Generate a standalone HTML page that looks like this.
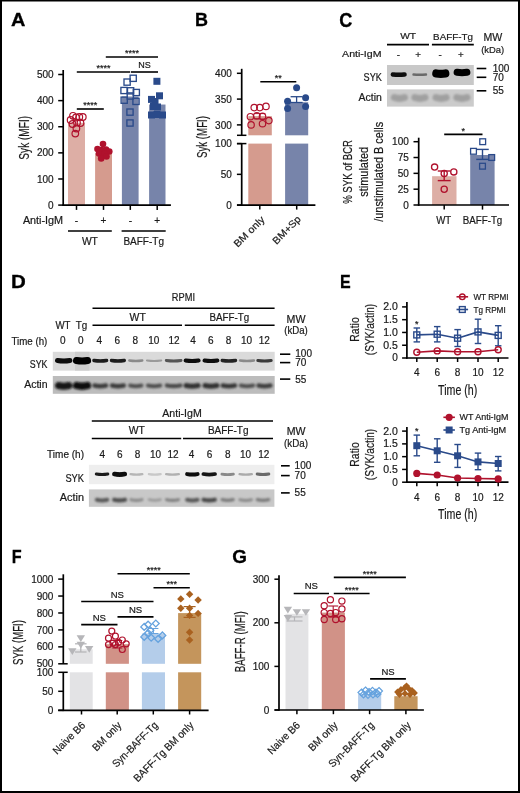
<!DOCTYPE html>
<html><head><meta charset="utf-8"><style>
html,body{margin:0;padding:0;background:#fff;}
body{width:520px;height:793px;overflow:hidden;}
svg{display:block;font-family:"Liberation Sans", sans-serif;will-change:transform;}
text{stroke:#1a1a1a;stroke-width:0.2px;}
</style></head><body>
<svg width="520" height="793" viewBox="0 0 520 793">
<defs>
<filter id="bl" filterUnits="userSpaceOnUse" x="0" y="0" width="520" height="793"><feGaussianBlur stdDeviation="0.9"/></filter>
<filter id="bl2" filterUnits="userSpaceOnUse" x="0" y="0" width="520" height="793"><feGaussianBlur stdDeviation="0.5"/></filter>
</defs>
<rect width="520" height="793" fill="#fff"/>
<rect x="0.00" y="0.00" width="520.00" height="1.50" fill="#000" />
<rect x="0.00" y="0.00" width="2.00" height="793.00" fill="#000" />
<rect x="518.00" y="0.00" width="2.00" height="793.00" fill="#000" />
<rect x="0.00" y="791.00" width="520.00" height="2.00" fill="#000" />
<text transform="translate(10.90,26.4) scale(1.073,1.0)" font-size="18.6" font-weight="bold" fill="#000" style="stroke:#000;stroke-width:0.3px">A</text>
<text transform="translate(194.95,26.4) scale(0.968,1.0)" font-size="18.6" font-weight="bold" fill="#000" style="stroke:#000;stroke-width:0.3px">B</text>
<text transform="translate(339.34,26.6) scale(0.976,1.05)" font-size="18.6" font-weight="bold" fill="#000" style="stroke:#000;stroke-width:0.3px">C</text>
<text transform="translate(10.98,287.6) scale(1.101,1.0)" font-size="18.6" font-weight="bold" fill="#000" style="stroke:#000;stroke-width:0.3px">D</text>
<text transform="translate(340.08,287.7) scale(0.861,1.0)" font-size="18.6" font-weight="bold" fill="#000" style="stroke:#000;stroke-width:0.3px">E</text>
<text transform="translate(11.87,562.5) scale(0.871,1.0)" font-size="18.6" font-weight="bold" fill="#000" style="stroke:#000;stroke-width:0.3px">F</text>
<text transform="translate(232.32,562.6) scale(1.016,1.03)" font-size="18.6" font-weight="bold" fill="#000" style="stroke:#000;stroke-width:0.3px">G</text>
<rect x="68.00" y="122.82" width="17.00" height="82.28" fill="#ddaea5" />
<rect x="95.10" y="153.38" width="16.90" height="51.72" fill="#d59b8e" />
<rect x="121.90" y="96.50" width="16.70" height="108.60" fill="#7784aa" />
<rect x="149.10" y="104.54" width="16.40" height="100.56" fill="#7784aa" />
<circle cx="70.60" cy="120.00" r="3.3" fill="none" stroke="#b0122d" stroke-width="1.2"/>
<circle cx="73.00" cy="115.80" r="3.3" fill="none" stroke="#b0122d" stroke-width="1.2"/>
<circle cx="76.00" cy="117.50" r="3.3" fill="none" stroke="#b0122d" stroke-width="1.2"/>
<circle cx="79.30" cy="117.00" r="3.3" fill="none" stroke="#b0122d" stroke-width="1.2"/>
<circle cx="82.80" cy="117.00" r="3.3" fill="none" stroke="#b0122d" stroke-width="1.2"/>
<circle cx="77.00" cy="122.70" r="3.3" fill="none" stroke="#b0122d" stroke-width="1.2"/>
<circle cx="72.50" cy="124.00" r="3.3" fill="none" stroke="#b0122d" stroke-width="1.2"/>
<circle cx="80.50" cy="123.00" r="3.3" fill="none" stroke="#b0122d" stroke-width="1.2"/>
<circle cx="76.40" cy="128.50" r="3.3" fill="none" stroke="#b0122d" stroke-width="1.2"/>
<circle cx="75.30" cy="133.60" r="3.3" fill="none" stroke="#b0122d" stroke-width="1.2"/>
<circle cx="103.00" cy="144.00" r="3.3" fill="#b0122d"/>
<circle cx="97.50" cy="149.00" r="3.3" fill="#b0122d"/>
<circle cx="101.50" cy="150.00" r="3.3" fill="#b0122d"/>
<circle cx="106.00" cy="149.50" r="3.3" fill="#b0122d"/>
<circle cx="109.30" cy="151.50" r="3.3" fill="#b0122d"/>
<circle cx="99.00" cy="153.50" r="3.3" fill="#b0122d"/>
<circle cx="104.50" cy="154.00" r="3.3" fill="#b0122d"/>
<circle cx="101.20" cy="158.40" r="3.3" fill="#b0122d"/>
<circle cx="106.50" cy="156.50" r="3.3" fill="#b0122d"/>
<rect x="130.10" y="75.20" width="6.2" height="6.2" fill="none" stroke="#2a4a8a" stroke-width="1.35"/>
<rect x="124.00" y="79.00" width="6.2" height="6.2" fill="none" stroke="#2a4a8a" stroke-width="1.35"/>
<rect x="120.90" y="87.40" width="6.2" height="6.2" fill="none" stroke="#2a4a8a" stroke-width="1.35"/>
<rect x="127.50" y="87.70" width="6.2" height="6.2" fill="none" stroke="#2a4a8a" stroke-width="1.35"/>
<rect x="133.20" y="89.40" width="6.2" height="6.2" fill="none" stroke="#2a4a8a" stroke-width="1.35"/>
<rect x="127.20" y="92.90" width="6.2" height="6.2" fill="none" stroke="#2a4a8a" stroke-width="1.35"/>
<rect x="121.10" y="97.10" width="6.2" height="6.2" fill="none" stroke="#2a4a8a" stroke-width="1.35"/>
<rect x="132.90" y="98.30" width="6.2" height="6.2" fill="none" stroke="#2a4a8a" stroke-width="1.35"/>
<rect x="126.90" y="109.00" width="6.2" height="6.2" fill="none" stroke="#2a4a8a" stroke-width="1.35"/>
<rect x="126.90" y="119.90" width="6.2" height="6.2" fill="none" stroke="#2a4a8a" stroke-width="1.35"/>
<rect x="153.40" y="77.80" width="7.0" height="7.0" fill="#2a4a8a"/>
<rect x="156.00" y="92.30" width="7.0" height="7.0" fill="#2a4a8a"/>
<rect x="148.00" y="95.90" width="7.0" height="7.0" fill="#2a4a8a"/>
<rect x="151.50" y="98.00" width="7.0" height="7.0" fill="#2a4a8a"/>
<rect x="150.00" y="103.00" width="7.0" height="7.0" fill="#2a4a8a"/>
<rect x="154.00" y="103.50" width="7.0" height="7.0" fill="#2a4a8a"/>
<rect x="148.00" y="111.50" width="7.0" height="7.0" fill="#2a4a8a"/>
<rect x="159.00" y="111.50" width="7.0" height="7.0" fill="#2a4a8a"/>
<rect x="153.50" y="111.00" width="7.0" height="7.0" fill="#2a4a8a"/>
<line x1="63.20" y1="70.00" x2="63.20" y2="205.90" stroke="#000" stroke-width="1.7"/>
<line x1="58.20" y1="205.10" x2="63.20" y2="205.10" stroke="#000" stroke-width="1.5"/>
<text x="53.60" y="208.70" font-size="10" text-anchor="end" fill="#1a1a1a" >0</text>
<line x1="58.20" y1="178.98" x2="63.20" y2="178.98" stroke="#000" stroke-width="1.5"/>
<text x="53.60" y="182.58" font-size="10" text-anchor="end" fill="#1a1a1a" >100</text>
<line x1="58.20" y1="152.86" x2="63.20" y2="152.86" stroke="#000" stroke-width="1.5"/>
<text x="53.60" y="156.46" font-size="10" text-anchor="end" fill="#1a1a1a" >200</text>
<line x1="58.20" y1="126.74" x2="63.20" y2="126.74" stroke="#000" stroke-width="1.5"/>
<text x="53.60" y="130.34" font-size="10" text-anchor="end" fill="#1a1a1a" >300</text>
<line x1="58.20" y1="100.62" x2="63.20" y2="100.62" stroke="#000" stroke-width="1.5"/>
<text x="53.60" y="104.22" font-size="10" text-anchor="end" fill="#1a1a1a" >400</text>
<line x1="58.20" y1="74.50" x2="63.20" y2="74.50" stroke="#000" stroke-width="1.5"/>
<text x="53.60" y="78.10" font-size="10" text-anchor="end" fill="#1a1a1a" >500</text>
<line x1="62.40" y1="205.10" x2="170.90" y2="205.10" stroke="#000" stroke-width="1.7"/>
<line x1="76.50" y1="205.10" x2="76.50" y2="209.90" stroke="#000" stroke-width="1.5"/>
<line x1="103.50" y1="205.10" x2="103.50" y2="209.90" stroke="#000" stroke-width="1.5"/>
<line x1="130.30" y1="205.10" x2="130.30" y2="209.90" stroke="#000" stroke-width="1.5"/>
<line x1="157.20" y1="205.10" x2="157.20" y2="209.90" stroke="#000" stroke-width="1.5"/>
<text transform="translate(28.70,137.80) rotate(-90)" font-size="14.2" text-anchor="middle" fill="#1a1a1a" textLength="43.70" lengthAdjust="spacingAndGlyphs" stroke="#1a1a1a" stroke-width="0.2">Syk (MFI)</text>
<text x="22.90" y="224.00" font-size="10" text-anchor="start" fill="#1a1a1a" textLength="40.20" lengthAdjust="spacingAndGlyphs" >Anti-IgM</text>
<text x="76.50" y="224.00" font-size="10" text-anchor="middle" fill="#1a1a1a" >-</text>
<text x="103.50" y="224.00" font-size="10" text-anchor="middle" fill="#1a1a1a" >+</text>
<text x="130.30" y="224.00" font-size="10" text-anchor="middle" fill="#1a1a1a" >-</text>
<text x="157.20" y="224.00" font-size="10" text-anchor="middle" fill="#1a1a1a" >+</text>
<line x1="68.00" y1="231.00" x2="111.80" y2="231.00" stroke="#000" stroke-width="1.6"/>
<line x1="121.60" y1="231.00" x2="165.70" y2="231.00" stroke="#000" stroke-width="1.6"/>
<text x="89.90" y="244.50" font-size="10" text-anchor="middle" fill="#1a1a1a" textLength="16.00" lengthAdjust="spacingAndGlyphs" >WT</text>
<text x="143.70" y="244.50" font-size="10" text-anchor="middle" fill="#1a1a1a" textLength="40.60" lengthAdjust="spacingAndGlyphs" >BAFF-Tg</text>
<line x1="105.80" y1="57.00" x2="158.00" y2="57.00" stroke="#000" stroke-width="1.6"/>
<text x="131.90" y="56.20" font-size="9" text-anchor="middle" fill="#1a1a1a" stroke="#1a1a1a" stroke-width="0.45">****</text>
<line x1="76.80" y1="72.00" x2="130.20" y2="72.00" stroke="#000" stroke-width="1.6"/>
<text x="103.50" y="71.20" font-size="9" text-anchor="middle" fill="#1a1a1a" stroke="#1a1a1a" stroke-width="0.45">****</text>
<line x1="131.00" y1="72.00" x2="158.00" y2="72.00" stroke="#000" stroke-width="1.6"/>
<text x="144.50" y="67.50" font-size="9" text-anchor="middle" fill="#1a1a1a" >NS</text>
<line x1="76.80" y1="109.00" x2="103.80" y2="109.00" stroke="#000" stroke-width="1.6"/>
<text x="90.30" y="108.20" font-size="9" text-anchor="middle" fill="#1a1a1a" stroke="#1a1a1a" stroke-width="0.45">****</text>
<rect x="248.30" y="116.13" width="23.50" height="19.17" fill="#d59b8e" />
<rect x="248.30" y="143.60" width="23.50" height="61.50" fill="#d59b8e" />
<rect x="285.10" y="102.20" width="23.10" height="33.10" fill="#7784aa" />
<rect x="285.10" y="143.60" width="23.10" height="61.50" fill="#7784aa" />
<line x1="296.60" y1="96.70" x2="296.60" y2="102.50" stroke="#2a4a8a" stroke-width="1.3"/>
<line x1="290.60" y1="96.70" x2="302.60" y2="96.70" stroke="#2a4a8a" stroke-width="1.3"/>
<line x1="290.60" y1="102.50" x2="302.60" y2="102.50" stroke="#2a4a8a" stroke-width="1.3"/>
<line x1="259.80" y1="113.60" x2="259.80" y2="119.00" stroke="#b0122d" stroke-width="1.0"/>
<line x1="254.30" y1="113.60" x2="265.30" y2="113.60" stroke="#b0122d" stroke-width="1.0"/>
<line x1="254.30" y1="119.00" x2="265.30" y2="119.00" stroke="#b0122d" stroke-width="1.0"/>
<circle cx="254.20" cy="107.60" r="3.2" fill="none" stroke="#b0122d" stroke-width="1.2"/>
<circle cx="259.80" cy="107.60" r="3.2" fill="none" stroke="#b0122d" stroke-width="1.2"/>
<circle cx="266.00" cy="106.40" r="3.2" fill="none" stroke="#b0122d" stroke-width="1.2"/>
<circle cx="250.40" cy="116.70" r="3.2" fill="none" stroke="#b0122d" stroke-width="1.2"/>
<circle cx="256.80" cy="115.70" r="3.2" fill="none" stroke="#b0122d" stroke-width="1.2"/>
<circle cx="262.50" cy="116.40" r="3.2" fill="none" stroke="#b0122d" stroke-width="1.2"/>
<circle cx="268.90" cy="120.60" r="3.2" fill="none" stroke="#b0122d" stroke-width="1.2"/>
<circle cx="251.10" cy="124.90" r="3.2" fill="none" stroke="#b0122d" stroke-width="1.2"/>
<circle cx="262.50" cy="123.70" r="3.2" fill="none" stroke="#b0122d" stroke-width="1.2"/>
<circle cx="296.60" cy="87.70" r="3.5" fill="#2a4a8a"/>
<circle cx="287.60" cy="101.20" r="3.5" fill="#2a4a8a"/>
<circle cx="305.60" cy="97.70" r="3.5" fill="#2a4a8a"/>
<circle cx="287.60" cy="108.40" r="3.5" fill="#2a4a8a"/>
<circle cx="305.60" cy="106.40" r="3.5" fill="#2a4a8a"/>
<line x1="241.70" y1="68.80" x2="241.70" y2="135.30" stroke="#000" stroke-width="1.7"/>
<line x1="241.70" y1="143.60" x2="241.70" y2="205.90" stroke="#000" stroke-width="1.7"/>
<line x1="236.90" y1="124.90" x2="241.70" y2="124.90" stroke="#000" stroke-width="1.5"/>
<text x="231.80" y="128.50" font-size="10" text-anchor="end" fill="#1a1a1a" >300</text>
<line x1="236.90" y1="99.10" x2="241.70" y2="99.10" stroke="#000" stroke-width="1.5"/>
<text x="231.80" y="102.70" font-size="10" text-anchor="end" fill="#1a1a1a" >350</text>
<line x1="236.90" y1="73.30" x2="241.70" y2="73.30" stroke="#000" stroke-width="1.5"/>
<text x="231.80" y="76.90" font-size="10" text-anchor="end" fill="#1a1a1a" >400</text>
<line x1="237.00" y1="135.30" x2="246.40" y2="135.30" stroke="#000" stroke-width="1.5"/>
<line x1="237.00" y1="143.60" x2="246.40" y2="143.60" stroke="#000" stroke-width="1.5"/>
<line x1="236.90" y1="205.10" x2="241.70" y2="205.10" stroke="#000" stroke-width="1.5"/>
<text x="231.80" y="208.70" font-size="10" text-anchor="end" fill="#1a1a1a" >0</text>
<line x1="236.90" y1="174.35" x2="241.70" y2="174.35" stroke="#000" stroke-width="1.5"/>
<text x="231.80" y="177.95" font-size="10" text-anchor="end" fill="#1a1a1a" >50</text>
<line x1="236.90" y1="143.60" x2="241.70" y2="143.60" stroke="#000" stroke-width="1.5"/>
<text x="231.80" y="147.20" font-size="10" text-anchor="end" fill="#1a1a1a" >100</text>
<line x1="237.00" y1="205.10" x2="315.40" y2="205.10" stroke="#000" stroke-width="1.7"/>
<line x1="260.30" y1="81.80" x2="296.30" y2="81.80" stroke="#000" stroke-width="1.6"/>
<text x="278.30" y="81.30" font-size="9" text-anchor="middle" fill="#1a1a1a" stroke="#1a1a1a" stroke-width="0.45">**</text>
<text transform="translate(207.00,137.00) rotate(-90)" font-size="14.0" text-anchor="middle" fill="#1a1a1a" textLength="42.00" lengthAdjust="spacingAndGlyphs" stroke="#1a1a1a" stroke-width="0.2">Syk (MFI)</text>
<text transform="translate(265.20,220.20) rotate(-45)" font-size="10" text-anchor="end" fill="#1a1a1a" textLength="39.00" lengthAdjust="spacingAndGlyphs" >BM only</text>
<line x1="259.80" y1="205.10" x2="259.80" y2="209.60" stroke="#000" stroke-width="1.5"/>
<line x1="296.70" y1="205.10" x2="296.70" y2="209.60" stroke="#000" stroke-width="1.5"/>
<text transform="translate(301.60,219.80) rotate(-45)" font-size="10" text-anchor="end" fill="#1a1a1a" textLength="35.50" lengthAdjust="spacingAndGlyphs" >BM+Sp</text>
<text x="400.20" y="39.00" font-size="9.8" text-anchor="start" fill="#1a1a1a" textLength="15.90" lengthAdjust="spacingAndGlyphs" >WT</text>
<line x1="387.00" y1="44.60" x2="429.00" y2="44.60" stroke="#000" stroke-width="1.6"/>
<text x="433.10" y="39.80" font-size="9.8" text-anchor="start" fill="#1a1a1a" textLength="39.80" lengthAdjust="spacingAndGlyphs" >BAFF-Tg</text>
<line x1="431.90" y1="44.60" x2="473.80" y2="44.60" stroke="#000" stroke-width="1.6"/>
<text x="483.50" y="41.20" font-size="10.5" text-anchor="start" fill="#1a1a1a" textLength="18.80" lengthAdjust="spacingAndGlyphs" >MW</text>
<text x="481.20" y="53.40" font-size="9.8" text-anchor="start" fill="#1a1a1a" textLength="23.00" lengthAdjust="spacingAndGlyphs" >(kDa)</text>
<text x="342.10" y="57.40" font-size="9.8" text-anchor="start" fill="#1a1a1a" textLength="39.40" lengthAdjust="spacingAndGlyphs" >Anti-IgM</text>
<text x="398.50" y="57.60" font-size="9.8" text-anchor="middle" fill="#1a1a1a" >-</text>
<text x="418.20" y="57.60" font-size="9.8" text-anchor="middle" fill="#1a1a1a" >+</text>
<text x="440.20" y="57.60" font-size="9.8" text-anchor="middle" fill="#1a1a1a" >-</text>
<text x="460.80" y="57.60" font-size="9.8" text-anchor="middle" fill="#1a1a1a" >+</text>
<text x="381.80" y="80.80" font-size="10" text-anchor="end" fill="#1a1a1a" textLength="18.20" lengthAdjust="spacingAndGlyphs" >SYK</text>
<text x="381.80" y="101.00" font-size="10" text-anchor="end" fill="#1a1a1a" textLength="23.30" lengthAdjust="spacingAndGlyphs" >Actin</text>
<rect x="387.00" y="65.00" width="86.80" height="20.00" fill="#c8c8c8" />
<rect x="387.00" y="89.40" width="86.80" height="17.20" fill="#cbcbcb" />
<g filter="url(#bl2)">
<path d="M392.90,74.50 Q398.70,75.10 404.50,74.50" stroke="#0a0a0a" stroke-width="4.6" stroke-linecap="round" fill="none"/>
<path d="M413.50,74.50 Q419.75,75.10 426.00,74.50" stroke="#6a6a6a" stroke-width="2.4" stroke-linecap="round" fill="none"/>
<path d="M436.30,73.50 Q440.80,74.30 445.30,73.50" stroke="#030303" stroke-width="8.2" stroke-linecap="round" fill="none"/>
<path d="M457.10,72.30 Q462.00,73.10 466.90,72.30" stroke="#050505" stroke-width="7.0" stroke-linecap="round" fill="none"/>
</g>
<g filter="url(#bl)">
<path d="M394.30,97.50 Q399.40,99.30 404.50,97.50" stroke="#a0a0a0" stroke-width="7.0" stroke-linecap="round" fill="none"/>
<path d="M414.80,97.50 Q419.90,99.30 425.00,97.50" stroke="#a0a0a0" stroke-width="7.0" stroke-linecap="round" fill="none"/>
<path d="M436.00,97.50 Q441.10,99.30 446.20,97.50" stroke="#a0a0a0" stroke-width="7.0" stroke-linecap="round" fill="none"/>
<path d="M456.80,97.50 Q461.90,99.30 467.00,97.50" stroke="#a0a0a0" stroke-width="7.0" stroke-linecap="round" fill="none"/>
</g>
<line x1="476.70" y1="68.50" x2="486.30" y2="68.50" stroke="#000" stroke-width="1.6"/>
<text x="492.70" y="72.00" font-size="10" text-anchor="start" fill="#1a1a1a" >100</text>
<line x1="476.70" y1="77.30" x2="486.30" y2="77.30" stroke="#000" stroke-width="1.6"/>
<text x="492.70" y="80.90" font-size="10" text-anchor="start" fill="#1a1a1a" >70</text>
<line x1="476.70" y1="90.80" x2="486.30" y2="90.80" stroke="#000" stroke-width="1.6"/>
<text x="492.70" y="94.40" font-size="10" text-anchor="start" fill="#1a1a1a" >55</text>
<rect x="432.10" y="176.20" width="24.40" height="28.80" fill="#ddaea5" />
<rect x="470.20" y="155.00" width="24.40" height="50.00" fill="#7784aa" />
<line x1="444.20" y1="171.00" x2="444.20" y2="180.60" stroke="#b0122d" stroke-width="1.4"/>
<line x1="437.75" y1="171.00" x2="450.65" y2="171.00" stroke="#b0122d" stroke-width="1.4"/>
<line x1="437.75" y1="180.60" x2="450.65" y2="180.60" stroke="#b0122d" stroke-width="1.4"/>
<line x1="482.50" y1="149.40" x2="482.50" y2="159.40" stroke="#2a4a8a" stroke-width="1.4"/>
<line x1="476.25" y1="149.40" x2="488.75" y2="149.40" stroke="#2a4a8a" stroke-width="1.4"/>
<line x1="476.25" y1="159.40" x2="488.75" y2="159.40" stroke="#2a4a8a" stroke-width="1.4"/>
<circle cx="434.60" cy="167.10" r="3.1" fill="none" stroke="#b0122d" stroke-width="1.3"/>
<circle cx="444.20" cy="173.50" r="3.1" fill="none" stroke="#b0122d" stroke-width="1.3"/>
<circle cx="453.80" cy="171.90" r="3.1" fill="none" stroke="#b0122d" stroke-width="1.3"/>
<circle cx="444.20" cy="189.20" r="3.1" fill="none" stroke="#b0122d" stroke-width="1.3"/>
<rect x="479.80" y="138.80" width="5.8" height="5.8" fill="none" stroke="#2a4a8a" stroke-width="1.3"/>
<rect x="470.60" y="148.40" width="5.8" height="5.8" fill="none" stroke="#2a4a8a" stroke-width="1.3"/>
<rect x="488.80" y="154.60" width="5.8" height="5.8" fill="none" stroke="#2a4a8a" stroke-width="1.3"/>
<rect x="479.60" y="163.30" width="5.8" height="5.8" fill="none" stroke="#2a4a8a" stroke-width="1.3"/>
<line x1="418.70" y1="137.70" x2="418.70" y2="205.80" stroke="#000" stroke-width="1.7"/>
<line x1="413.50" y1="205.00" x2="418.70" y2="205.00" stroke="#000" stroke-width="1.5"/>
<text x="408.80" y="208.50" font-size="10" text-anchor="end" fill="#1a1a1a" >0</text>
<line x1="413.50" y1="189.18" x2="418.70" y2="189.18" stroke="#000" stroke-width="1.5"/>
<text x="408.80" y="192.68" font-size="10" text-anchor="end" fill="#1a1a1a" >25</text>
<line x1="413.50" y1="173.35" x2="418.70" y2="173.35" stroke="#000" stroke-width="1.5"/>
<text x="408.80" y="176.85" font-size="10" text-anchor="end" fill="#1a1a1a" >50</text>
<line x1="413.50" y1="157.52" x2="418.70" y2="157.52" stroke="#000" stroke-width="1.5"/>
<text x="408.80" y="161.02" font-size="10" text-anchor="end" fill="#1a1a1a" >75</text>
<line x1="413.50" y1="141.70" x2="418.70" y2="141.70" stroke="#000" stroke-width="1.5"/>
<text x="408.80" y="145.20" font-size="10" text-anchor="end" fill="#1a1a1a" >100</text>
<line x1="417.90" y1="205.00" x2="509.00" y2="205.00" stroke="#000" stroke-width="1.7"/>
<line x1="444.20" y1="205.00" x2="444.20" y2="209.60" stroke="#000" stroke-width="1.5"/>
<line x1="482.50" y1="205.00" x2="482.50" y2="209.60" stroke="#000" stroke-width="1.5"/>
<line x1="444.20" y1="134.40" x2="482.50" y2="134.40" stroke="#000" stroke-width="1.6"/>
<text x="463.35" y="133.90" font-size="9" text-anchor="middle" fill="#1a1a1a" stroke="#1a1a1a" stroke-width="0.45">*</text>
<text x="443.70" y="223.50" font-size="10" text-anchor="middle" fill="#1a1a1a" textLength="15.00" lengthAdjust="spacingAndGlyphs" >WT</text>
<text x="482.50" y="223.50" font-size="10" text-anchor="middle" fill="#1a1a1a" textLength="39.60" lengthAdjust="spacingAndGlyphs" >BAFF-Tg</text>
<text transform="translate(351.90,171.90) rotate(-90)" font-size="13.7" text-anchor="middle" fill="#1a1a1a" textLength="63.80" lengthAdjust="spacingAndGlyphs" stroke="#1a1a1a" stroke-width="0.2">% SYK of BCR</text>
<text transform="translate(367.80,171.80) rotate(-90)" font-size="13.7" text-anchor="middle" fill="#1a1a1a" textLength="49.90" lengthAdjust="spacingAndGlyphs" stroke="#1a1a1a" stroke-width="0.2">stimulated</text>
<text transform="translate(382.60,171.80) rotate(-90)" font-size="13.7" text-anchor="middle" fill="#1a1a1a" textLength="99.90" lengthAdjust="spacingAndGlyphs" stroke="#1a1a1a" stroke-width="0.2">/unstimulated B cells</text>
<text x="183.40" y="301.10" font-size="10" text-anchor="middle" fill="#1a1a1a" textLength="23.10" lengthAdjust="spacingAndGlyphs" >RPMI</text>
<line x1="92.50" y1="308.30" x2="274.60" y2="308.30" stroke="#000" stroke-width="1.6"/>
<text x="55.40" y="328.80" font-size="10" text-anchor="start" fill="#1a1a1a" textLength="15.00" lengthAdjust="spacingAndGlyphs" >WT</text>
<text x="75.70" y="328.80" font-size="10" text-anchor="start" fill="#1a1a1a" textLength="11.50" lengthAdjust="spacingAndGlyphs" >Tg</text>
<line x1="92.50" y1="325.30" x2="182.00" y2="325.30" stroke="#000" stroke-width="1.6"/>
<line x1="184.80" y1="325.30" x2="274.60" y2="325.30" stroke="#000" stroke-width="1.6"/>
<text x="137.70" y="320.70" font-size="10" text-anchor="middle" fill="#1a1a1a" textLength="16.20" lengthAdjust="spacingAndGlyphs" >WT</text>
<text x="229.40" y="321.00" font-size="10" text-anchor="middle" fill="#1a1a1a" textLength="39.70" lengthAdjust="spacingAndGlyphs" >BAFF-Tg</text>
<text x="286.60" y="322.60" font-size="10" text-anchor="start" fill="#1a1a1a" textLength="18.90" lengthAdjust="spacingAndGlyphs" >MW</text>
<text x="284.20" y="333.90" font-size="10" text-anchor="start" fill="#1a1a1a" textLength="23.60" lengthAdjust="spacingAndGlyphs" >(kDa)</text>
<text x="11.50" y="344.90" font-size="10" text-anchor="start" fill="#1a1a1a" textLength="35.80" lengthAdjust="spacingAndGlyphs" >Time (h)</text>
<text x="62.80" y="344.30" font-size="10" text-anchor="middle" fill="#1a1a1a" >0</text>
<text x="80.80" y="344.30" font-size="10" text-anchor="middle" fill="#1a1a1a" >0</text>
<text x="99.20" y="344.30" font-size="10" text-anchor="middle" fill="#1a1a1a" >4</text>
<text x="117.40" y="344.30" font-size="10" text-anchor="middle" fill="#1a1a1a" >6</text>
<text x="135.40" y="344.30" font-size="10" text-anchor="middle" fill="#1a1a1a" >8</text>
<text x="153.80" y="344.30" font-size="10" text-anchor="middle" fill="#1a1a1a" >10</text>
<text x="174.10" y="344.30" font-size="10" text-anchor="middle" fill="#1a1a1a" >12</text>
<text x="193.10" y="344.30" font-size="10" text-anchor="middle" fill="#1a1a1a" >4</text>
<text x="210.70" y="344.30" font-size="10" text-anchor="middle" fill="#1a1a1a" >6</text>
<text x="228.50" y="344.30" font-size="10" text-anchor="middle" fill="#1a1a1a" >8</text>
<text x="246.50" y="344.30" font-size="10" text-anchor="middle" fill="#1a1a1a" >10</text>
<text x="264.20" y="344.30" font-size="10" text-anchor="middle" fill="#1a1a1a" >12</text>
<text x="47.50" y="368.40" font-size="10" text-anchor="end" fill="#1a1a1a" textLength="17.70" lengthAdjust="spacingAndGlyphs" >SYK</text>
<text x="47.50" y="387.90" font-size="10" text-anchor="end" fill="#1a1a1a" textLength="23.30" lengthAdjust="spacingAndGlyphs" >Actin</text>
<rect x="52.80" y="351.80" width="221.90" height="18.80" fill="#dadada" />
<rect x="75.00" y="351.80" width="14.50" height="18.80" fill="#cdcdcd" />
<rect x="52.80" y="376.00" width="221.90" height="17.80" fill="#bcbcbc" />
<g filter="url(#bl2)">
<path d="M57.50,360.50 Q63.70,361.50 69.90,360.50" stroke="#0d0d0d" stroke-width="5.0" stroke-linecap="round" fill="none"/>
<path d="M76.50,360.50 Q82.05,361.50 87.60,360.50" stroke="#000" stroke-width="7.0" stroke-linecap="round" fill="none"/>
<path d="M93.90,360.50 Q100.25,361.50 106.60,360.50" stroke="#1a1a1a" stroke-width="3.4" stroke-linecap="round" fill="none"/>
<path d="M111.50,360.50 Q117.90,361.50 124.30,360.50" stroke="#1a1a1a" stroke-width="3.4" stroke-linecap="round" fill="none"/>
<path d="M129.30,360.50 Q135.80,361.50 142.30,360.50" stroke="#8a8a8a" stroke-width="2.4" stroke-linecap="round" fill="none"/>
<path d="M147.00,360.50 Q154.10,361.50 161.20,360.50" stroke="#9a9a9a" stroke-width="2.2" stroke-linecap="round" fill="none"/>
<path d="M166.20,360.50 Q173.65,361.50 181.10,360.50" stroke="#555" stroke-width="2.8" stroke-linecap="round" fill="none"/>
<path d="M185.60,360.50 Q192.10,361.50 198.60,360.50" stroke="#0a0a0a" stroke-width="4.0" stroke-linecap="round" fill="none"/>
<path d="M204.50,360.50 Q210.95,361.50 217.40,360.50" stroke="#0a0a0a" stroke-width="4.0" stroke-linecap="round" fill="none"/>
<path d="M222.20,360.50 Q228.85,361.50 235.50,360.50" stroke="#222" stroke-width="3.4" stroke-linecap="round" fill="none"/>
<path d="M240.10,360.50 Q247.00,361.50 253.90,360.50" stroke="#8a8a8a" stroke-width="2.6" stroke-linecap="round" fill="none"/>
<path d="M257.90,360.50 Q264.50,361.50 271.10,360.50" stroke="#3a3a3a" stroke-width="3.2" stroke-linecap="round" fill="none"/>
</g>
<g filter="url(#bl)">
<path d="M58.50,385.50 Q63.70,386.90 68.90,385.50" stroke="#141414" stroke-width="7.0" stroke-linecap="round" fill="none"/>
<path d="M76.70,385.50 Q82.05,386.90 87.40,385.50" stroke="#0a0a0a" stroke-width="7.4" stroke-linecap="round" fill="none"/>
<path d="M94.50,385.50 Q100.25,386.90 106.00,385.50" stroke="#3c3c3c" stroke-width="4.6" stroke-linecap="round" fill="none"/>
<path d="M112.10,385.50 Q117.90,386.90 123.70,385.50" stroke="#3c3c3c" stroke-width="4.6" stroke-linecap="round" fill="none"/>
<path d="M130.10,385.50 Q135.80,386.90 141.50,385.50" stroke="#505050" stroke-width="4.0" stroke-linecap="round" fill="none"/>
<path d="M147.90,385.50 Q154.10,386.90 160.30,385.50" stroke="#505050" stroke-width="4.0" stroke-linecap="round" fill="none"/>
<path d="M166.90,385.50 Q173.65,386.90 180.40,385.50" stroke="#484848" stroke-width="4.2" stroke-linecap="round" fill="none"/>
<path d="M186.10,385.50 Q192.10,386.90 198.10,385.50" stroke="#303030" stroke-width="5.0" stroke-linecap="round" fill="none"/>
<path d="M205.00,385.50 Q210.95,386.90 216.90,385.50" stroke="#303030" stroke-width="5.0" stroke-linecap="round" fill="none"/>
<path d="M222.80,385.50 Q228.85,386.90 234.90,385.50" stroke="#383838" stroke-width="4.6" stroke-linecap="round" fill="none"/>
<path d="M240.80,385.50 Q247.00,386.90 253.20,385.50" stroke="#505050" stroke-width="4.0" stroke-linecap="round" fill="none"/>
<path d="M258.50,385.50 Q264.50,386.90 270.50,385.50" stroke="#404040" stroke-width="4.4" stroke-linecap="round" fill="none"/>
</g>
<line x1="280.00" y1="354.20" x2="290.30" y2="354.20" stroke="#000" stroke-width="1.6"/>
<text x="295.30" y="357.00" font-size="10" text-anchor="start" fill="#1a1a1a" >100</text>
<line x1="280.00" y1="362.60" x2="290.30" y2="362.60" stroke="#000" stroke-width="1.6"/>
<text x="295.30" y="366.20" font-size="10" text-anchor="start" fill="#1a1a1a" >70</text>
<line x1="280.00" y1="379.10" x2="290.30" y2="379.10" stroke="#000" stroke-width="1.6"/>
<text x="295.30" y="382.60" font-size="10" text-anchor="start" fill="#1a1a1a" >55</text>
<text x="162.30" y="416.70" font-size="10" text-anchor="start" fill="#1a1a1a" textLength="39.40" lengthAdjust="spacingAndGlyphs" >Anti-IgM</text>
<line x1="91.80" y1="421.00" x2="273.00" y2="421.00" stroke="#000" stroke-width="1.6"/>
<text x="136.70" y="433.70" font-size="10" text-anchor="middle" fill="#1a1a1a" textLength="16.10" lengthAdjust="spacingAndGlyphs" >WT</text>
<line x1="91.80" y1="438.50" x2="181.20" y2="438.50" stroke="#000" stroke-width="1.6"/>
<line x1="183.00" y1="438.50" x2="273.00" y2="438.50" stroke="#000" stroke-width="1.6"/>
<text x="228.20" y="434.00" font-size="10" text-anchor="middle" fill="#1a1a1a" textLength="40.50" lengthAdjust="spacingAndGlyphs" >BAFF-Tg</text>
<text x="286.80" y="435.20" font-size="10" text-anchor="start" fill="#1a1a1a" textLength="18.80" lengthAdjust="spacingAndGlyphs" >MW</text>
<text x="284.00" y="447.30" font-size="10" text-anchor="start" fill="#1a1a1a" textLength="23.90" lengthAdjust="spacingAndGlyphs" >(kDa)</text>
<text x="47.10" y="458.30" font-size="10" text-anchor="start" fill="#1a1a1a" textLength="36.90" lengthAdjust="spacingAndGlyphs" >Time (h)</text>
<text x="102.30" y="457.80" font-size="10" text-anchor="middle" fill="#1a1a1a" >4</text>
<text x="119.80" y="457.80" font-size="10" text-anchor="middle" fill="#1a1a1a" >6</text>
<text x="137.50" y="457.80" font-size="10" text-anchor="middle" fill="#1a1a1a" >8</text>
<text x="155.60" y="457.80" font-size="10" text-anchor="middle" fill="#1a1a1a" >10</text>
<text x="173.10" y="457.80" font-size="10" text-anchor="middle" fill="#1a1a1a" >12</text>
<text x="191.60" y="457.80" font-size="10" text-anchor="middle" fill="#1a1a1a" >4</text>
<text x="209.50" y="457.80" font-size="10" text-anchor="middle" fill="#1a1a1a" >6</text>
<text x="227.70" y="457.80" font-size="10" text-anchor="middle" fill="#1a1a1a" >8</text>
<text x="245.60" y="457.80" font-size="10" text-anchor="middle" fill="#1a1a1a" >10</text>
<text x="263.70" y="457.80" font-size="10" text-anchor="middle" fill="#1a1a1a" >12</text>
<text x="84.00" y="481.70" font-size="10" text-anchor="end" fill="#1a1a1a" textLength="18.60" lengthAdjust="spacingAndGlyphs" >SYK</text>
<text x="84.00" y="500.50" font-size="10" text-anchor="end" fill="#1a1a1a" textLength="24.20" lengthAdjust="spacingAndGlyphs" >Actin</text>
<rect x="88.90" y="464.80" width="185.50" height="19.40" fill="#eeeeee" />
<rect x="88.90" y="489.40" width="185.50" height="17.40" fill="#c8c8c8" />
<g filter="url(#bl2)">
<path d="M96.30,474.10 Q102.05,475.10 107.80,474.10" stroke="#1a1a1a" stroke-width="3.0" stroke-linecap="round" fill="none"/>
<path d="M114.40,474.10 Q119.60,475.10 124.80,474.10" stroke="#080808" stroke-width="4.6" stroke-linecap="round" fill="none"/>
<path d="M130.60,474.10 Q136.45,475.10 142.30,474.10" stroke="#b5b5b5" stroke-width="2.4" stroke-linecap="round" fill="none"/>
<path d="M148.80,474.10 Q154.75,475.10 160.70,474.10" stroke="#c8c8c8" stroke-width="2.2" stroke-linecap="round" fill="none"/>
<path d="M166.20,474.10 Q172.50,475.10 178.80,474.10" stroke="#b0b0b0" stroke-width="2.4" stroke-linecap="round" fill="none"/>
<path d="M187.10,474.10 Q192.35,475.10 197.60,474.10" stroke="#0a0a0a" stroke-width="4.0" stroke-linecap="round" fill="none"/>
<path d="M203.30,474.10 Q209.20,475.10 215.10,474.10" stroke="#141414" stroke-width="3.6" stroke-linecap="round" fill="none"/>
<path d="M221.80,474.10 Q227.65,475.10 233.50,474.10" stroke="#8a8a8a" stroke-width="2.6" stroke-linecap="round" fill="none"/>
<path d="M239.60,474.10 Q245.70,475.10 251.80,474.10" stroke="#aaaaaa" stroke-width="2.4" stroke-linecap="round" fill="none"/>
<path d="M257.20,474.10 Q263.00,475.10 268.80,474.10" stroke="#6a6a6a" stroke-width="3.0" stroke-linecap="round" fill="none"/>
</g>
<g filter="url(#bl)">
<path d="M96.80,499.70 Q102.05,501.10 107.30,499.70" stroke="#5a5a5a" stroke-width="4.0" stroke-linecap="round" fill="none"/>
<path d="M114.20,499.70 Q119.60,501.10 125.00,499.70" stroke="#505050" stroke-width="4.2" stroke-linecap="round" fill="none"/>
<path d="M131.00,499.70 Q136.45,501.10 141.90,499.70" stroke="#8a8a8a" stroke-width="3.2" stroke-linecap="round" fill="none"/>
<path d="M149.10,499.70 Q154.75,501.10 160.40,499.70" stroke="#9a9a9a" stroke-width="2.8" stroke-linecap="round" fill="none"/>
<path d="M166.60,499.70 Q172.50,501.10 178.40,499.70" stroke="#808080" stroke-width="3.2" stroke-linecap="round" fill="none"/>
<path d="M187.10,499.70 Q192.35,501.10 197.60,499.70" stroke="#5a5a5a" stroke-width="4.0" stroke-linecap="round" fill="none"/>
<path d="M203.60,499.70 Q209.20,501.10 214.80,499.70" stroke="#4a4a4a" stroke-width="4.2" stroke-linecap="round" fill="none"/>
<path d="M222.20,499.70 Q227.65,501.10 233.10,499.70" stroke="#7a7a7a" stroke-width="3.4" stroke-linecap="round" fill="none"/>
<path d="M239.90,499.70 Q245.70,501.10 251.50,499.70" stroke="#8a8a8a" stroke-width="3.0" stroke-linecap="round" fill="none"/>
<path d="M257.40,499.70 Q263.00,501.10 268.60,499.70" stroke="#7a7a7a" stroke-width="3.4" stroke-linecap="round" fill="none"/>
</g>
<line x1="281.00" y1="465.80" x2="289.70" y2="465.80" stroke="#000" stroke-width="1.6"/>
<text x="294.60" y="469.30" font-size="10" text-anchor="start" fill="#1a1a1a" >100</text>
<line x1="281.00" y1="475.60" x2="289.70" y2="475.60" stroke="#000" stroke-width="1.6"/>
<text x="294.60" y="479.00" font-size="10" text-anchor="start" fill="#1a1a1a" >70</text>
<line x1="281.00" y1="492.90" x2="289.70" y2="492.90" stroke="#000" stroke-width="1.6"/>
<text x="294.60" y="496.40" font-size="10" text-anchor="start" fill="#1a1a1a" >55</text>
<line x1="406.90" y1="301.90" x2="406.90" y2="358.80" stroke="#000" stroke-width="1.7"/>
<line x1="402.10" y1="358.00" x2="406.90" y2="358.00" stroke="#000" stroke-width="1.5"/>
<text x="397.80" y="361.40" font-size="10" text-anchor="end" fill="#1a1a1a" >0</text>
<line x1="402.10" y1="345.23" x2="406.90" y2="345.23" stroke="#000" stroke-width="1.5"/>
<text x="397.80" y="348.62" font-size="10" text-anchor="end" fill="#1a1a1a" textLength="14.60" lengthAdjust="spacingAndGlyphs" >0.5</text>
<line x1="402.10" y1="332.45" x2="406.90" y2="332.45" stroke="#000" stroke-width="1.5"/>
<text x="397.80" y="335.85" font-size="10" text-anchor="end" fill="#1a1a1a" textLength="14.60" lengthAdjust="spacingAndGlyphs" >1.0</text>
<line x1="402.10" y1="319.68" x2="406.90" y2="319.68" stroke="#000" stroke-width="1.5"/>
<text x="397.80" y="323.07" font-size="10" text-anchor="end" fill="#1a1a1a" textLength="14.60" lengthAdjust="spacingAndGlyphs" >1.5</text>
<line x1="402.10" y1="306.90" x2="406.90" y2="306.90" stroke="#000" stroke-width="1.5"/>
<text x="397.80" y="310.30" font-size="10" text-anchor="end" fill="#1a1a1a" textLength="14.60" lengthAdjust="spacingAndGlyphs" >2.0</text>
<line x1="406.10" y1="358.00" x2="508.50" y2="358.00" stroke="#000" stroke-width="1.7"/>
<line x1="416.80" y1="358.00" x2="416.80" y2="362.00" stroke="#000" stroke-width="1.5"/>
<line x1="437.20" y1="358.00" x2="437.20" y2="362.00" stroke="#000" stroke-width="1.5"/>
<line x1="457.60" y1="358.00" x2="457.60" y2="362.00" stroke="#000" stroke-width="1.5"/>
<line x1="478.00" y1="358.00" x2="478.00" y2="362.00" stroke="#000" stroke-width="1.5"/>
<line x1="498.20" y1="358.00" x2="498.20" y2="362.00" stroke="#000" stroke-width="1.5"/>
<text x="416.80" y="375.80" font-size="10" text-anchor="middle" fill="#1a1a1a" >4</text>
<text x="437.20" y="375.80" font-size="10" text-anchor="middle" fill="#1a1a1a" >6</text>
<text x="457.60" y="375.80" font-size="10" text-anchor="middle" fill="#1a1a1a" >8</text>
<text x="478.00" y="375.80" font-size="10" text-anchor="middle" fill="#1a1a1a" >10</text>
<text x="498.20" y="375.80" font-size="10" text-anchor="middle" fill="#1a1a1a" >12</text>
<text x="457.70" y="394.70" font-size="14.0" text-anchor="middle" fill="#1a1a1a" textLength="39.20" lengthAdjust="spacingAndGlyphs" stroke="#1a1a1a" stroke-width="0.2">Time (h)</text>
<polyline points="416.80,352.20 437.20,350.90 457.60,351.80 478.00,351.80 498.20,349.70" fill="none" stroke="#b0122d" stroke-width="1.6"/>
<polyline points="416.80,334.90 437.20,334.20 457.60,338.20 478.00,331.90 498.20,335.40" fill="none" stroke="#2a4a8a" stroke-width="1.6"/>
<line x1="416.80" y1="328.00" x2="416.80" y2="341.90" stroke="#2a4a8a" stroke-width="1.4"/>
<line x1="413.55" y1="328.00" x2="420.05" y2="328.00" stroke="#2a4a8a" stroke-width="1.4"/>
<line x1="413.55" y1="341.90" x2="420.05" y2="341.90" stroke="#2a4a8a" stroke-width="1.4"/>
<line x1="437.20" y1="326.60" x2="437.20" y2="341.90" stroke="#2a4a8a" stroke-width="1.4"/>
<line x1="433.95" y1="326.60" x2="440.45" y2="326.60" stroke="#2a4a8a" stroke-width="1.4"/>
<line x1="433.95" y1="341.90" x2="440.45" y2="341.90" stroke="#2a4a8a" stroke-width="1.4"/>
<line x1="457.60" y1="329.60" x2="457.60" y2="346.50" stroke="#2a4a8a" stroke-width="1.4"/>
<line x1="454.35" y1="329.60" x2="460.85" y2="329.60" stroke="#2a4a8a" stroke-width="1.4"/>
<line x1="454.35" y1="346.50" x2="460.85" y2="346.50" stroke="#2a4a8a" stroke-width="1.4"/>
<line x1="478.00" y1="319.20" x2="478.00" y2="343.50" stroke="#2a4a8a" stroke-width="1.4"/>
<line x1="474.75" y1="319.20" x2="481.25" y2="319.20" stroke="#2a4a8a" stroke-width="1.4"/>
<line x1="474.75" y1="343.50" x2="481.25" y2="343.50" stroke="#2a4a8a" stroke-width="1.4"/>
<line x1="498.20" y1="325.70" x2="498.20" y2="345.80" stroke="#2a4a8a" stroke-width="1.4"/>
<line x1="494.95" y1="325.70" x2="501.45" y2="325.70" stroke="#2a4a8a" stroke-width="1.4"/>
<line x1="494.95" y1="345.80" x2="501.45" y2="345.80" stroke="#2a4a8a" stroke-width="1.4"/>
<circle cx="416.80" cy="352.20" r="3.0" fill="none" stroke="#b0122d" stroke-width="1.4"/>
<circle cx="437.20" cy="350.90" r="3.0" fill="none" stroke="#b0122d" stroke-width="1.4"/>
<circle cx="457.60" cy="351.80" r="3.0" fill="none" stroke="#b0122d" stroke-width="1.4"/>
<circle cx="478.00" cy="351.80" r="3.0" fill="none" stroke="#b0122d" stroke-width="1.4"/>
<circle cx="498.20" cy="349.70" r="3.0" fill="none" stroke="#b0122d" stroke-width="1.4"/>
<rect x="413.80" y="331.90" width="6.0" height="6.0" fill="none" stroke="#2a4a8a" stroke-width="1.4"/>
<rect x="434.20" y="331.20" width="6.0" height="6.0" fill="none" stroke="#2a4a8a" stroke-width="1.4"/>
<rect x="454.60" y="335.20" width="6.0" height="6.0" fill="none" stroke="#2a4a8a" stroke-width="1.4"/>
<rect x="475.00" y="328.90" width="6.0" height="6.0" fill="none" stroke="#2a4a8a" stroke-width="1.4"/>
<rect x="495.20" y="332.40" width="6.0" height="6.0" fill="none" stroke="#2a4a8a" stroke-width="1.4"/>
<line x1="456.50" y1="296.80" x2="468.10" y2="296.80" stroke="#b0122d" stroke-width="1.6"/>
<line x1="456.50" y1="309.50" x2="468.10" y2="309.50" stroke="#2a4a8a" stroke-width="1.6"/>
<circle cx="462.30" cy="296.80" r="2.8" fill="none" stroke="#b0122d" stroke-width="1.4"/>
<rect x="459.40" y="306.60" width="5.8" height="5.8" fill="none" stroke="#2a4a8a" stroke-width="1.4"/>
<text x="473.40" y="299.90" font-size="9.2" text-anchor="start" fill="#1a1a1a" textLength="35.10" lengthAdjust="spacingAndGlyphs" >WT RPMI</text>
<text x="473.40" y="312.60" font-size="9.2" text-anchor="start" fill="#1a1a1a" textLength="32.30" lengthAdjust="spacingAndGlyphs" >Tg RPMI</text>
<text x="416.80" y="327.00" font-size="9" text-anchor="middle" fill="#1a1a1a" >*</text>
<line x1="406.90" y1="426.90" x2="406.90" y2="483.00" stroke="#000" stroke-width="1.7"/>
<line x1="402.10" y1="482.20" x2="406.90" y2="482.20" stroke="#000" stroke-width="1.5"/>
<text x="397.80" y="485.60" font-size="10" text-anchor="end" fill="#1a1a1a" >0</text>
<line x1="402.10" y1="469.43" x2="406.90" y2="469.43" stroke="#000" stroke-width="1.5"/>
<text x="397.80" y="472.82" font-size="10" text-anchor="end" fill="#1a1a1a" textLength="14.60" lengthAdjust="spacingAndGlyphs" >0.5</text>
<line x1="402.10" y1="456.65" x2="406.90" y2="456.65" stroke="#000" stroke-width="1.5"/>
<text x="397.80" y="460.05" font-size="10" text-anchor="end" fill="#1a1a1a" textLength="14.60" lengthAdjust="spacingAndGlyphs" >1.0</text>
<line x1="402.10" y1="443.88" x2="406.90" y2="443.88" stroke="#000" stroke-width="1.5"/>
<text x="397.80" y="447.27" font-size="10" text-anchor="end" fill="#1a1a1a" textLength="14.60" lengthAdjust="spacingAndGlyphs" >1.5</text>
<line x1="402.10" y1="431.10" x2="406.90" y2="431.10" stroke="#000" stroke-width="1.5"/>
<text x="397.80" y="434.50" font-size="10" text-anchor="end" fill="#1a1a1a" textLength="14.60" lengthAdjust="spacingAndGlyphs" >2.0</text>
<line x1="406.10" y1="482.20" x2="508.50" y2="482.20" stroke="#000" stroke-width="1.7"/>
<line x1="416.80" y1="482.20" x2="416.80" y2="486.20" stroke="#000" stroke-width="1.5"/>
<line x1="437.20" y1="482.20" x2="437.20" y2="486.20" stroke="#000" stroke-width="1.5"/>
<line x1="457.60" y1="482.20" x2="457.60" y2="486.20" stroke="#000" stroke-width="1.5"/>
<line x1="478.00" y1="482.20" x2="478.00" y2="486.20" stroke="#000" stroke-width="1.5"/>
<line x1="498.20" y1="482.20" x2="498.20" y2="486.20" stroke="#000" stroke-width="1.5"/>
<text x="416.80" y="501.00" font-size="10" text-anchor="middle" fill="#1a1a1a" >4</text>
<text x="437.20" y="501.00" font-size="10" text-anchor="middle" fill="#1a1a1a" >6</text>
<text x="457.60" y="501.00" font-size="10" text-anchor="middle" fill="#1a1a1a" >8</text>
<text x="478.00" y="501.00" font-size="10" text-anchor="middle" fill="#1a1a1a" >10</text>
<text x="498.20" y="501.00" font-size="10" text-anchor="middle" fill="#1a1a1a" >12</text>
<text x="457.70" y="519.20" font-size="14.0" text-anchor="middle" fill="#1a1a1a" textLength="39.20" lengthAdjust="spacingAndGlyphs" stroke="#1a1a1a" stroke-width="0.2">Time (h)</text>
<polyline points="416.80,473.40 437.20,475.00 457.60,478.00 478.00,478.50 498.20,478.90" fill="none" stroke="#b0122d" stroke-width="1.6"/>
<polyline points="416.80,445.70 437.20,450.80 457.60,455.80 478.00,461.90 498.20,463.50" fill="none" stroke="#2a4a8a" stroke-width="1.6"/>
<line x1="416.80" y1="435.10" x2="416.80" y2="455.80" stroke="#2a4a8a" stroke-width="1.4"/>
<line x1="413.55" y1="435.10" x2="420.05" y2="435.10" stroke="#2a4a8a" stroke-width="1.4"/>
<line x1="413.55" y1="455.80" x2="420.05" y2="455.80" stroke="#2a4a8a" stroke-width="1.4"/>
<line x1="437.20" y1="438.80" x2="437.20" y2="462.30" stroke="#2a4a8a" stroke-width="1.4"/>
<line x1="433.95" y1="438.80" x2="440.45" y2="438.80" stroke="#2a4a8a" stroke-width="1.4"/>
<line x1="433.95" y1="462.30" x2="440.45" y2="462.30" stroke="#2a4a8a" stroke-width="1.4"/>
<line x1="457.60" y1="444.50" x2="457.60" y2="467.40" stroke="#2a4a8a" stroke-width="1.4"/>
<line x1="454.35" y1="444.50" x2="460.85" y2="444.50" stroke="#2a4a8a" stroke-width="1.4"/>
<line x1="454.35" y1="467.40" x2="460.85" y2="467.40" stroke="#2a4a8a" stroke-width="1.4"/>
<line x1="478.00" y1="453.10" x2="478.00" y2="469.70" stroke="#2a4a8a" stroke-width="1.4"/>
<line x1="474.75" y1="453.10" x2="481.25" y2="453.10" stroke="#2a4a8a" stroke-width="1.4"/>
<line x1="474.75" y1="469.70" x2="481.25" y2="469.70" stroke="#2a4a8a" stroke-width="1.4"/>
<line x1="498.20" y1="456.50" x2="498.20" y2="470.90" stroke="#2a4a8a" stroke-width="1.4"/>
<line x1="494.95" y1="456.50" x2="501.45" y2="456.50" stroke="#2a4a8a" stroke-width="1.4"/>
<line x1="494.95" y1="470.90" x2="501.45" y2="470.90" stroke="#2a4a8a" stroke-width="1.4"/>
<circle cx="416.80" cy="473.40" r="3.6" fill="#b0122d"/>
<circle cx="437.20" cy="475.00" r="3.6" fill="#b0122d"/>
<circle cx="457.60" cy="478.00" r="3.6" fill="#b0122d"/>
<circle cx="478.00" cy="478.50" r="3.6" fill="#b0122d"/>
<circle cx="498.20" cy="478.90" r="3.6" fill="#b0122d"/>
<rect x="413.30" y="442.20" width="7.0" height="7.0" fill="#2a4a8a"/>
<rect x="433.70" y="447.30" width="7.0" height="7.0" fill="#2a4a8a"/>
<rect x="454.10" y="452.30" width="7.0" height="7.0" fill="#2a4a8a"/>
<rect x="474.50" y="458.40" width="7.0" height="7.0" fill="#2a4a8a"/>
<rect x="494.70" y="460.00" width="7.0" height="7.0" fill="#2a4a8a"/>
<line x1="443.40" y1="417.30" x2="454.90" y2="417.30" stroke="#b0122d" stroke-width="1.6"/>
<line x1="443.40" y1="430.00" x2="454.90" y2="430.00" stroke="#2a4a8a" stroke-width="1.6"/>
<circle cx="449.15" cy="417.30" r="3.6" fill="#b0122d"/>
<rect x="445.65" y="426.50" width="7.0" height="7.0" fill="#2a4a8a"/>
<text x="459.50" y="420.40" font-size="9.2" text-anchor="start" fill="#1a1a1a" textLength="49.00" lengthAdjust="spacingAndGlyphs" >WT Anti-IgM</text>
<text x="459.50" y="433.10" font-size="9.2" text-anchor="start" fill="#1a1a1a" textLength="46.70" lengthAdjust="spacingAndGlyphs" >Tg Anti-IgM</text>
<text x="416.80" y="433.80" font-size="9" text-anchor="middle" fill="#1a1a1a" >*</text>
<text transform="translate(358.80,329.50) rotate(-90)" font-size="13.2" text-anchor="middle" fill="#1a1a1a" textLength="24.40" lengthAdjust="spacingAndGlyphs" stroke="#1a1a1a" stroke-width="0.2">Ratio</text>
<text transform="translate(374.40,329.50) rotate(-90)" font-size="13.2" text-anchor="middle" fill="#1a1a1a" textLength="51.40" lengthAdjust="spacingAndGlyphs" stroke="#1a1a1a" stroke-width="0.2">(SYK/actin)</text>
<text transform="translate(358.80,454.50) rotate(-90)" font-size="13.2" text-anchor="middle" fill="#1a1a1a" textLength="24.40" lengthAdjust="spacingAndGlyphs" stroke="#1a1a1a" stroke-width="0.2">Ratio</text>
<text transform="translate(374.40,454.50) rotate(-90)" font-size="13.2" text-anchor="middle" fill="#1a1a1a" textLength="51.40" lengthAdjust="spacingAndGlyphs" stroke="#1a1a1a" stroke-width="0.2">(SYK/actin)</text>
<rect x="69.80" y="649.30" width="22.90" height="14.50" fill="#e3e3e5" />
<rect x="69.80" y="672.30" width="22.90" height="38.00" fill="#e3e3e5" />
<rect x="105.80" y="644.20" width="23.10" height="19.60" fill="#d19287" />
<rect x="105.80" y="672.30" width="23.10" height="38.00" fill="#d19287" />
<rect x="141.90" y="633.40" width="23.10" height="30.40" fill="#b4cdea" />
<rect x="141.90" y="672.30" width="23.10" height="38.00" fill="#b4cdea" />
<rect x="178.10" y="613.10" width="23.10" height="50.70" fill="#c4955c" />
<rect x="178.10" y="672.30" width="23.10" height="38.00" fill="#c4955c" />
<line x1="80.80" y1="643.80" x2="80.80" y2="652.00" stroke="#b6b6b9" stroke-width="1.3"/>
<line x1="75.05" y1="643.80" x2="86.55" y2="643.80" stroke="#b6b6b9" stroke-width="1.3"/>
<line x1="75.05" y1="652.00" x2="86.55" y2="652.00" stroke="#b6b6b9" stroke-width="1.3"/>
<polygon points="76.60,635.35 85.00,635.35 80.80,642.07" fill="#b6b6b9"/>
<polygon points="68.10,648.35 76.50,648.35 72.30,655.07" fill="#b6b6b9"/>
<polygon points="85.00,646.05 93.40,646.05 89.20,652.77" fill="#b6b6b9"/>
<polygon points="76.60,641.85 85.00,641.85 80.80,648.57" fill="#b6b6b9"/>
<line x1="117.30" y1="640.50" x2="117.30" y2="648.00" stroke="#b0122d" stroke-width="1.0"/>
<line x1="112.30" y1="640.50" x2="122.30" y2="640.50" stroke="#b0122d" stroke-width="1.0"/>
<line x1="112.30" y1="648.00" x2="122.30" y2="648.00" stroke="#b0122d" stroke-width="1.0"/>
<circle cx="111.80" cy="631.10" r="3.0" fill="none" stroke="#b0122d" stroke-width="1.2"/>
<circle cx="108.50" cy="638.20" r="3.0" fill="none" stroke="#b0122d" stroke-width="1.2"/>
<circle cx="115.40" cy="636.20" r="3.0" fill="none" stroke="#b0122d" stroke-width="1.2"/>
<circle cx="122.30" cy="640.00" r="3.0" fill="none" stroke="#b0122d" stroke-width="1.2"/>
<circle cx="126.20" cy="643.80" r="3.0" fill="none" stroke="#b0122d" stroke-width="1.2"/>
<circle cx="108.50" cy="644.60" r="3.0" fill="none" stroke="#b0122d" stroke-width="1.2"/>
<circle cx="113.00" cy="643.10" r="3.0" fill="none" stroke="#b0122d" stroke-width="1.2"/>
<circle cx="118.50" cy="642.30" r="3.0" fill="none" stroke="#b0122d" stroke-width="1.2"/>
<circle cx="122.30" cy="649.50" r="3.0" fill="none" stroke="#b0122d" stroke-width="1.2"/>
<circle cx="115.40" cy="644.60" r="3.0" fill="none" stroke="#b0122d" stroke-width="1.2"/>
<line x1="153.40" y1="628.50" x2="153.40" y2="633.50" stroke="#65a2de" stroke-width="1.0"/>
<line x1="148.40" y1="628.50" x2="158.40" y2="628.50" stroke="#65a2de" stroke-width="1.0"/>
<line x1="148.40" y1="633.50" x2="158.40" y2="633.50" stroke="#65a2de" stroke-width="1.0"/>
<polygon points="144.20,623.50 147.60,626.90 144.20,630.30 140.80,626.90" fill="none" stroke="#65a2de" stroke-width="1.3"/>
<polygon points="148.10,621.20 151.50,624.60 148.10,628.00 144.70,624.60" fill="none" stroke="#65a2de" stroke-width="1.3"/>
<polygon points="155.80,620.10 159.20,623.50 155.80,626.90 152.40,623.50" fill="none" stroke="#65a2de" stroke-width="1.3"/>
<polygon points="150.40,626.90 153.80,630.30 150.40,633.70 147.00,630.30" fill="none" stroke="#65a2de" stroke-width="1.3"/>
<polygon points="144.20,633.50 147.60,636.90 144.20,640.30 140.80,636.90" fill="none" stroke="#65a2de" stroke-width="1.3"/>
<polygon points="151.20,634.30 154.60,637.70 151.20,641.10 147.80,637.70" fill="none" stroke="#65a2de" stroke-width="1.3"/>
<polygon points="158.10,635.50 161.50,638.90 158.10,642.30 154.70,638.90" fill="none" stroke="#65a2de" stroke-width="1.3"/>
<polygon points="162.40,632.00 165.80,635.40 162.40,638.80 159.00,635.40" fill="none" stroke="#65a2de" stroke-width="1.3"/>
<polygon points="148.10,629.70 151.50,633.10 148.10,636.50 144.70,633.10" fill="none" stroke="#65a2de" stroke-width="1.3"/>
<line x1="189.60" y1="606.60" x2="189.60" y2="617.40" stroke="#a9611f" stroke-width="1.2"/>
<line x1="183.60" y1="606.60" x2="195.60" y2="606.60" stroke="#a9611f" stroke-width="1.2"/>
<line x1="183.60" y1="617.40" x2="195.60" y2="617.40" stroke="#a9611f" stroke-width="1.2"/>
<polygon points="189.60,590.60 193.30,594.30 189.60,598.00 185.90,594.30" fill="#a9611f"/>
<polygon points="180.80,595.20 184.50,598.90 180.80,602.60 177.10,598.90" fill="#a9611f"/>
<polygon points="198.10,596.30 201.80,600.00 198.10,603.70 194.40,600.00" fill="#a9611f"/>
<polygon points="180.80,604.50 184.50,608.20 180.80,611.90 177.10,608.20" fill="#a9611f"/>
<polygon points="189.60,604.50 193.30,608.20 189.60,611.90 185.90,608.20" fill="#a9611f"/>
<polygon points="198.10,609.70 201.80,613.40 198.10,617.10 194.40,613.40" fill="#a9611f"/>
<polygon points="189.60,611.70 193.30,615.40 189.60,619.10 185.90,615.40" fill="#a9611f"/>
<polygon points="189.60,628.60 193.30,632.30 189.60,636.00 185.90,632.30" fill="#a9611f"/>
<polygon points="189.60,636.30 193.30,640.00 189.60,643.70 185.90,640.00" fill="#a9611f"/>
<line x1="63.30" y1="574.30" x2="63.30" y2="663.80" stroke="#000" stroke-width="1.7"/>
<line x1="63.30" y1="672.30" x2="63.30" y2="711.10" stroke="#000" stroke-width="1.7"/>
<line x1="58.20" y1="646.86" x2="63.30" y2="646.86" stroke="#000" stroke-width="1.5"/>
<text x="53.40" y="650.46" font-size="10" text-anchor="end" fill="#1a1a1a" >600</text>
<line x1="58.20" y1="629.92" x2="63.30" y2="629.92" stroke="#000" stroke-width="1.5"/>
<text x="53.40" y="633.52" font-size="10" text-anchor="end" fill="#1a1a1a" >700</text>
<line x1="58.20" y1="612.98" x2="63.30" y2="612.98" stroke="#000" stroke-width="1.5"/>
<text x="53.40" y="616.58" font-size="10" text-anchor="end" fill="#1a1a1a" >800</text>
<line x1="58.20" y1="596.04" x2="63.30" y2="596.04" stroke="#000" stroke-width="1.5"/>
<text x="53.40" y="599.64" font-size="10" text-anchor="end" fill="#1a1a1a" >900</text>
<line x1="58.20" y1="579.10" x2="63.30" y2="579.10" stroke="#000" stroke-width="1.5"/>
<text x="53.40" y="582.70" font-size="10" text-anchor="end" fill="#1a1a1a" >1000</text>
<line x1="58.20" y1="663.80" x2="67.70" y2="663.80" stroke="#000" stroke-width="1.5"/>
<text x="53.40" y="667.40" font-size="10" text-anchor="end" fill="#1a1a1a" >500</text>
<line x1="58.20" y1="672.30" x2="67.70" y2="672.30" stroke="#000" stroke-width="1.5"/>
<text x="53.40" y="675.90" font-size="10" text-anchor="end" fill="#1a1a1a" >100</text>
<line x1="58.20" y1="710.30" x2="63.30" y2="710.30" stroke="#000" stroke-width="1.5"/>
<text x="53.40" y="713.90" font-size="10" text-anchor="end" fill="#1a1a1a" >0</text>
<line x1="58.20" y1="691.30" x2="63.30" y2="691.30" stroke="#000" stroke-width="1.5"/>
<text x="53.40" y="694.90" font-size="10" text-anchor="end" fill="#1a1a1a" >50</text>
<line x1="58.20" y1="710.30" x2="208.60" y2="710.30" stroke="#000" stroke-width="1.7"/>
<line x1="81.50" y1="710.30" x2="81.50" y2="714.50" stroke="#000" stroke-width="1.5"/>
<line x1="117.20" y1="710.30" x2="117.20" y2="714.50" stroke="#000" stroke-width="1.5"/>
<line x1="153.30" y1="710.30" x2="153.30" y2="714.50" stroke="#000" stroke-width="1.5"/>
<line x1="189.60" y1="710.30" x2="189.60" y2="714.50" stroke="#000" stroke-width="1.5"/>
<text transform="translate(23.10,642.50) rotate(-90)" font-size="14.0" text-anchor="middle" fill="#1a1a1a" textLength="45.00" lengthAdjust="spacingAndGlyphs" stroke="#1a1a1a" stroke-width="0.2">SYK (MFI)</text>
<line x1="117.50" y1="573.80" x2="189.80" y2="573.80" stroke="#000" stroke-width="1.6"/>
<text x="153.65" y="573.20" font-size="9" text-anchor="middle" fill="#1a1a1a" stroke="#1a1a1a" stroke-width="0.45">****</text>
<line x1="153.50" y1="587.70" x2="189.80" y2="587.70" stroke="#000" stroke-width="1.6"/>
<text x="171.65" y="587.10" font-size="9" text-anchor="middle" fill="#1a1a1a" stroke="#1a1a1a" stroke-width="0.45">***</text>
<line x1="81.20" y1="601.50" x2="153.50" y2="601.50" stroke="#000" stroke-width="1.6"/>
<text x="117.35" y="597.70" font-size="9.5" text-anchor="middle" fill="#1a1a1a" >NS</text>
<line x1="117.50" y1="616.90" x2="153.50" y2="616.90" stroke="#000" stroke-width="1.6"/>
<text x="135.50" y="612.70" font-size="9.5" text-anchor="middle" fill="#1a1a1a" >NS</text>
<line x1="81.20" y1="624.60" x2="117.50" y2="624.60" stroke="#000" stroke-width="1.6"/>
<text x="99.35" y="620.80" font-size="9.5" text-anchor="middle" fill="#1a1a1a" >NS</text>
<text transform="translate(85.90,725.90) rotate(-45)" font-size="10.6" text-anchor="end" fill="#1a1a1a" textLength="41.00" lengthAdjust="spacingAndGlyphs" >Naive B6</text>
<text transform="translate(122.20,725.90) rotate(-45)" font-size="10.6" text-anchor="end" fill="#1a1a1a" textLength="36.50" lengthAdjust="spacingAndGlyphs" >BM only</text>
<text transform="translate(158.60,725.90) rotate(-45)" font-size="10.6" text-anchor="end" fill="#1a1a1a" textLength="59.50" lengthAdjust="spacingAndGlyphs" >Syn-BAFF-Tg</text>
<text transform="translate(194.20,725.90) rotate(-45)" font-size="10.6" text-anchor="end" fill="#1a1a1a" textLength="80.00" lengthAdjust="spacingAndGlyphs" >BAFF-Tg BM only</text>
<rect x="285.50" y="613.80" width="22.90" height="96.20" fill="#e3e3e5" />
<rect x="321.80" y="612.60" width="23.10" height="97.40" fill="#d19287" />
<rect x="358.10" y="693.90" width="23.10" height="16.10" fill="#b4cdea" />
<rect x="394.30" y="696.20" width="23.30" height="13.80" fill="#c4955c" />
<line x1="294.50" y1="616.90" x2="294.50" y2="621.00" stroke="#b6b6b9" stroke-width="1.2"/>
<line x1="286.50" y1="616.90" x2="302.50" y2="616.90" stroke="#b6b6b9" stroke-width="1.2"/>
<line x1="286.50" y1="621.00" x2="302.50" y2="621.00" stroke="#b6b6b9" stroke-width="1.2"/>
<polygon points="283.70,606.85 292.10,606.85 287.90,613.57" fill="#b6b6b9"/>
<polygon points="292.70,609.15 301.10,609.15 296.90,615.87" fill="#b6b6b9"/>
<polygon points="301.70,609.15 310.10,609.15 305.90,615.87" fill="#b6b6b9"/>
<polygon points="283.70,614.95 292.10,614.95 287.90,621.67" fill="#b6b6b9"/>
<line x1="333.20" y1="606.00" x2="333.20" y2="617.00" stroke="#b0122d" stroke-width="1.1"/>
<line x1="328.20" y1="606.00" x2="338.20" y2="606.00" stroke="#b0122d" stroke-width="1.1"/>
<line x1="328.20" y1="617.00" x2="338.20" y2="617.00" stroke="#b0122d" stroke-width="1.1"/>
<circle cx="330.40" cy="599.70" r="3.1" fill="none" stroke="#b0122d" stroke-width="1.2"/>
<circle cx="341.90" cy="601.10" r="3.1" fill="none" stroke="#b0122d" stroke-width="1.2"/>
<circle cx="324.20" cy="605.70" r="3.1" fill="none" stroke="#b0122d" stroke-width="1.2"/>
<circle cx="341.90" cy="608.90" r="3.1" fill="none" stroke="#b0122d" stroke-width="1.2"/>
<circle cx="324.20" cy="612.60" r="3.1" fill="none" stroke="#b0122d" stroke-width="1.2"/>
<circle cx="330.40" cy="613.50" r="3.1" fill="none" stroke="#b0122d" stroke-width="1.2"/>
<circle cx="335.70" cy="612.60" r="3.1" fill="none" stroke="#b0122d" stroke-width="1.2"/>
<circle cx="324.20" cy="619.50" r="3.1" fill="none" stroke="#b0122d" stroke-width="1.2"/>
<circle cx="335.70" cy="619.50" r="3.1" fill="none" stroke="#b0122d" stroke-width="1.2"/>
<circle cx="341.90" cy="618.80" r="3.1" fill="none" stroke="#b0122d" stroke-width="1.2"/>
<polygon points="361.50,689.00 365.00,692.50 361.50,696.00 358.00,692.50" fill="none" stroke="#65a2de" stroke-width="1.2"/>
<polygon points="365.50,687.00 369.00,690.50 365.50,694.00 362.00,690.50" fill="none" stroke="#65a2de" stroke-width="1.2"/>
<polygon points="369.00,688.50 372.50,692.00 369.00,695.50 365.50,692.00" fill="none" stroke="#65a2de" stroke-width="1.2"/>
<polygon points="372.50,687.30 376.00,690.80 372.50,694.30 369.00,690.80" fill="none" stroke="#65a2de" stroke-width="1.2"/>
<polygon points="376.00,689.10 379.50,692.60 376.00,696.10 372.50,692.60" fill="none" stroke="#65a2de" stroke-width="1.2"/>
<polygon points="379.00,687.50 382.50,691.00 379.00,694.50 375.50,691.00" fill="none" stroke="#65a2de" stroke-width="1.2"/>
<polygon points="363.50,691.00 367.00,694.50 363.50,698.00 360.00,694.50" fill="none" stroke="#65a2de" stroke-width="1.2"/>
<polygon points="368.00,691.30 371.50,694.80 368.00,698.30 364.50,694.80" fill="none" stroke="#65a2de" stroke-width="1.2"/>
<polygon points="373.00,691.00 376.50,694.50 373.00,698.00 369.50,694.50" fill="none" stroke="#65a2de" stroke-width="1.2"/>
<polygon points="377.50,690.50 381.00,694.00 377.50,697.50 374.00,694.00" fill="none" stroke="#65a2de" stroke-width="1.2"/>
<polygon points="397.50,688.60 400.90,692.00 397.50,695.40 394.10,692.00" fill="#a9611f"/>
<polygon points="401.00,686.10 404.40,689.50 401.00,692.90 397.60,689.50" fill="#a9611f"/>
<polygon points="404.50,684.60 407.90,688.00 404.50,691.40 401.10,688.00" fill="#a9611f"/>
<polygon points="406.50,682.40 409.90,685.80 406.50,689.20 403.10,685.80" fill="#a9611f"/>
<polygon points="409.00,685.60 412.40,689.00 409.00,692.40 405.60,689.00" fill="#a9611f"/>
<polygon points="412.00,687.10 415.40,690.50 412.00,693.90 408.60,690.50" fill="#a9611f"/>
<polygon points="414.50,689.60 417.90,693.00 414.50,696.40 411.10,693.00" fill="#a9611f"/>
<polygon points="399.50,691.10 402.90,694.50 399.50,697.90 396.10,694.50" fill="#a9611f"/>
<polygon points="405.00,690.10 408.40,693.50 405.00,696.90 401.60,693.50" fill="#a9611f"/>
<polygon points="410.00,691.10 413.40,694.50 410.00,697.90 406.60,694.50" fill="#a9611f"/>
<line x1="279.00" y1="575.30" x2="279.00" y2="710.80" stroke="#000" stroke-width="1.7"/>
<line x1="274.40" y1="710.00" x2="279.00" y2="710.00" stroke="#000" stroke-width="1.5"/>
<text x="269.40" y="713.50" font-size="10" text-anchor="end" fill="#1a1a1a" >0</text>
<line x1="274.40" y1="666.40" x2="279.00" y2="666.40" stroke="#000" stroke-width="1.5"/>
<text x="269.40" y="669.90" font-size="10" text-anchor="end" fill="#1a1a1a" >100</text>
<line x1="274.40" y1="622.80" x2="279.00" y2="622.80" stroke="#000" stroke-width="1.5"/>
<text x="269.40" y="626.30" font-size="10" text-anchor="end" fill="#1a1a1a" >200</text>
<line x1="274.40" y1="579.20" x2="279.00" y2="579.20" stroke="#000" stroke-width="1.5"/>
<text x="269.40" y="582.70" font-size="10" text-anchor="end" fill="#1a1a1a" >300</text>
<line x1="274.60" y1="710.00" x2="423.90" y2="710.00" stroke="#000" stroke-width="1.7"/>
<line x1="296.90" y1="710.00" x2="296.90" y2="714.20" stroke="#000" stroke-width="1.5"/>
<line x1="333.40" y1="710.00" x2="333.40" y2="714.20" stroke="#000" stroke-width="1.5"/>
<line x1="369.60" y1="710.00" x2="369.60" y2="714.20" stroke="#000" stroke-width="1.5"/>
<line x1="405.90" y1="710.00" x2="405.90" y2="714.20" stroke="#000" stroke-width="1.5"/>
<text transform="translate(245.20,641.80) rotate(-90)" font-size="13.8" text-anchor="middle" fill="#1a1a1a" textLength="61.00" lengthAdjust="spacingAndGlyphs" stroke="#1a1a1a" stroke-width="0.2">BAFF-R (MFI)</text>
<line x1="333.80" y1="577.40" x2="405.90" y2="577.40" stroke="#000" stroke-width="1.6"/>
<text x="369.85" y="576.80" font-size="9" text-anchor="middle" fill="#1a1a1a" stroke="#1a1a1a" stroke-width="0.45">****</text>
<line x1="293.70" y1="593.50" x2="329.00" y2="593.50" stroke="#000" stroke-width="1.6"/>
<text x="311.35" y="589.30" font-size="9.5" text-anchor="middle" fill="#1a1a1a" >NS</text>
<line x1="333.80" y1="593.50" x2="369.60" y2="593.50" stroke="#000" stroke-width="1.6"/>
<text x="351.70" y="592.90" font-size="9" text-anchor="middle" fill="#1a1a1a" stroke="#1a1a1a" stroke-width="0.45">****</text>
<line x1="370.10" y1="678.90" x2="405.90" y2="678.90" stroke="#000" stroke-width="1.6"/>
<text x="388.00" y="674.90" font-size="9.5" text-anchor="middle" fill="#1a1a1a" >NS</text>
<text transform="translate(300.70,725.90) rotate(-45)" font-size="10.6" text-anchor="end" fill="#1a1a1a" textLength="41.00" lengthAdjust="spacingAndGlyphs" >Naive B6</text>
<text transform="translate(338.40,725.90) rotate(-45)" font-size="10.6" text-anchor="end" fill="#1a1a1a" textLength="36.50" lengthAdjust="spacingAndGlyphs" >BM only</text>
<text transform="translate(374.80,725.90) rotate(-45)" font-size="10.6" text-anchor="end" fill="#1a1a1a" textLength="59.50" lengthAdjust="spacingAndGlyphs" >Syn-BAFF-Tg</text>
<text transform="translate(411.50,725.90) rotate(-45)" font-size="10.6" text-anchor="end" fill="#1a1a1a" textLength="80.00" lengthAdjust="spacingAndGlyphs" >BAFF-Tg BM only</text>
</svg>
</body></html>
